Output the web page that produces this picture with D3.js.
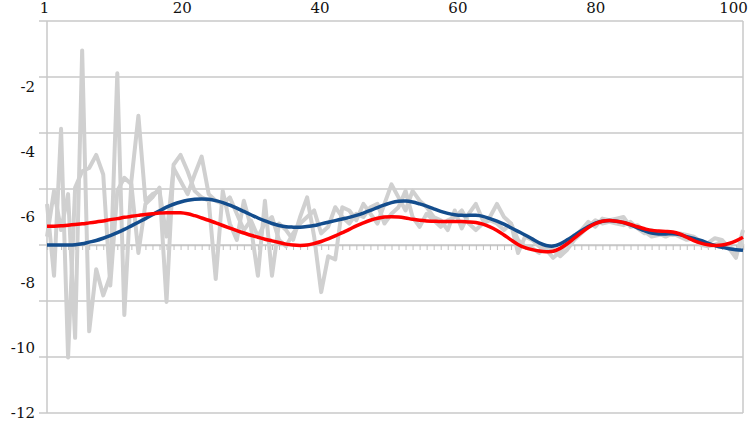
<!DOCTYPE html>
<html>
<head>
<meta charset="utf-8">
<script src="https://cdn.jsdelivr.net/npm/d3@7"></script>
<style>
  html, body { margin: 0; padding: 0; background: #fff; }
  svg text { font-family: "DejaVu Serif", "Liberation Serif", serif; font-size: 15px; fill: #111; }
</style>
</head>
<body>
<svg id="chart" width="750" height="425"></svg>
<script>
// ---------- data ----------
const categories = d3.range(1, 101);
const xTickLabels = ["1", "20", "40", "60", "80", "100"];
const yTickValues = [-2, -4, -6, -8, -10, -12];

const grayA = [
  -5.6, -7.8, -3.3, -10.3, -5.1, -4.6, -4.5, -4.1, -4.7, -8.1,
  -5.2, -4.8, -5.0, -7.1, -5.6, -5.4, -5.1, -8.6, -4.4, -4.1,
  -4.6, -5.2, -5.4, -5.5, -7.9, -5.2, -6.2, -6.7, -5.5, -6.3,
  -7.8, -5.5, -7.8, -6.2, -6.4, -6.7, -6.0, -5.4, -6.6, -8.3,
  -7.2, -7.3, -5.7, -5.8, -6.1, -5.6, -5.9, -6.2, -5.6, -5.0,
  -5.4, -5.8, -5.2, -5.5, -5.7, -6.0, -6.1, -6.4, -5.8, -6.35,
  -5.9, -5.6, -6.1, -6.0, -5.6, -6.0, -6.2, -7.1, -6.6, -6.7,
  -6.9, -7.0, -7.25, -7.06, -6.8, -6.6, -6.4, -6.15, -6.3, -6.05,
  -6.1, -6.05, -6.0, -6.3, -6.25, -6.45, -6.6, -6.55, -6.5, -6.55,
  -6.5, -6.55, -6.6, -6.75, -6.8, -6.65, -6.7, -6.95, -7.25, -6.4
];
const grayB = [
  -6.6, -5.2, -6.4, -5.3, -9.7, -0.9, -9.5, -7.6, -8.4, -7.8,
  -1.6, -9.0, -4.9, -2.9, -5.5, -5.3, -5.2, -6.6, -4.5, -4.9,
  -5.3, -4.7, -4.15, -5.3, -5.5, -5.6, -5.4, -5.9, -6.4, -6.1,
  -6.6, -6.2, -6.0, -6.7, -6.9, -6.5, -6.2, -6.0, -5.8, -6.5,
  -6.3, -5.7, -6.0, -6.2, -5.9, -6.0, -5.7, -5.6, -6.2, -5.9,
  -5.7, -5.2, -6.0, -6.3, -5.9, -6.1, -6.3, -6.1, -6.0, -5.8,
  -6.2, -6.4, -6.2, -6.1, -6.2, -6.4, -6.2, -6.7, -6.9, -6.95,
  -7.1, -6.9, -7.0, -7.2, -7.0, -6.7, -6.5, -6.3, -6.1, -6.2,
  -6.15, -6.2, -6.25, -6.15, -6.35, -6.5, -6.4, -6.5, -6.6, -6.5,
  -6.6, -6.7, -6.65, -6.85, -6.9, -6.85, -6.75, -6.9, -7.05, -6.8
];
const blueSeries = [
  -6.86, -6.86, -6.86, -6.86, -6.85, -6.82, -6.77, -6.72, -6.65, -6.57,
  -6.48, -6.38, -6.27, -6.16, -6.05, -5.93, -5.81, -5.70, -5.61, -5.54,
  -5.49, -5.46, -5.45, -5.46, -5.50, -5.56, -5.64, -5.73, -5.83, -5.93,
  -6.03, -6.12, -6.20, -6.26, -6.30, -6.31, -6.31, -6.29, -6.26, -6.21,
  -6.16, -6.11, -6.06, -6.01, -5.95, -5.88, -5.80, -5.71, -5.63, -5.56,
  -5.52, -5.51, -5.54, -5.60, -5.67, -5.75, -5.83, -5.89, -5.93, -5.95,
  -5.95, -5.95, -5.98, -6.05, -6.13, -6.22, -6.33, -6.44, -6.55, -6.67,
  -6.79, -6.87, -6.89, -6.82, -6.70, -6.56, -6.42, -6.29, -6.19, -6.13,
  -6.11, -6.13, -6.17, -6.24, -6.33, -6.42, -6.49, -6.52, -6.52, -6.51,
  -6.54, -6.60, -6.66, -6.72, -6.80, -6.87, -6.93, -6.97, -7.00, -7.02
];
const redSeries = [
  -6.28, -6.28, -6.27, -6.25, -6.23, -6.21, -6.18, -6.15, -6.12, -6.08,
  -6.05, -6.01, -5.98, -5.95, -5.92, -5.90, -5.88, -5.87, -5.87, -5.87,
  -5.90, -5.96, -6.03, -6.10, -6.18, -6.26, -6.34, -6.42, -6.49, -6.56,
  -6.62, -6.68, -6.73, -6.78, -6.83, -6.86, -6.87, -6.86, -6.81, -6.75,
  -6.67, -6.58, -6.48, -6.38, -6.27, -6.18, -6.10, -6.04, -6.00, -5.99,
  -6.00, -6.03, -6.07, -6.10, -6.12, -6.13, -6.14, -6.14, -6.14, -6.14,
  -6.15, -6.17, -6.22, -6.30, -6.41, -6.55, -6.70, -6.84, -6.94, -7.00,
  -7.04, -7.06, -7.05, -6.96, -6.82, -6.65, -6.48, -6.32, -6.20, -6.13,
  -6.11, -6.13, -6.17, -6.23, -6.30, -6.36, -6.41, -6.43, -6.44, -6.46,
  -6.52, -6.62, -6.72, -6.80, -6.85, -6.87, -6.86, -6.81, -6.73, -6.62
];

// ---------- layout ----------
const margin = { left: 47, right: 7, top: 21, bottom: 12 };
const W = 750, H = 425;
const svg = d3.select("#chart");

const x = d3.scaleLinear().domain([1, 100]).range([margin.left, W - margin.right]);
const xLabel = d3.scaleLinear().domain([0, 100]).range([margin.left - 3, W - margin.right - 10]);
const y = d3.scaleLinear().domain([0, -12]).range([margin.top, H - margin.bottom]);

// gridlines: 7 equal intervals
const gridVals = d3.range(0, 8).map(i => -i * 12 / 7);
svg.append("g").selectAll("line").data(gridVals).join("line")
  .attr("x1", margin.left - 8).attr("x2", W - margin.right)
  .attr("y1", d => y(d)).attr("y2", d => y(d))
  .attr("stroke", "#c8c8c8").attr("stroke-width", 1.5);

// vertical borders
svg.append("g").selectAll("line").data([1, 100]).join("line")
  .attr("x1", d => x(d)).attr("x2", d => x(d))
  .attr("y1", y(0)).attr("y2", y(-12))
  .attr("stroke", "#c8c8c8").attr("stroke-width", 1.5);

// category axis crossing at 4th gridline, with minor ticks
const axisVal = gridVals[4];
const catAxis = d3.axisBottom(x).tickValues(categories).tickSize(5).tickFormat("");
const gAxis = svg.append("g").attr("transform", `translate(0,${y(axisVal)})`).call(catAxis);
gAxis.select(".domain").attr("stroke", "#c8c8c8").attr("stroke-width", 1.5);
gAxis.selectAll(".tick line").attr("stroke", "#c0c0c0").attr("stroke-width", 1);

// top labels
const topAxis = d3.axisTop(xLabel).tickValues([0, 20, 40, 60, 80, 100])
  .tickFormat((d, i) => xTickLabels[i]).tickSize(0).tickPadding(8);
const gTop = svg.append("g").attr("transform", `translate(0,${margin.top})`).call(topAxis);
gTop.select(".domain").remove();

// left labels
const leftAxis = d3.axisLeft(y).tickValues(yTickValues).tickSize(0).tickPadding(12)
  .tickFormat(d => String(d));
const gLeft = svg.append("g").attr("transform", `translate(${margin.left},0)`).call(leftAxis);
gLeft.select(".domain").remove();

// lines
const lineLinear = d3.line().x((d, i) => x(categories[i])).y(d => y(d));
const lineSmooth = d3.line().x((d, i) => x(categories[i])).y(d => y(d)).curve(d3.curveCatmullRom);

[grayA, grayB].forEach(s => {
  svg.append("path").datum(s).attr("d", lineLinear)
    .attr("fill", "none").attr("stroke", "#d0d0d0").attr("stroke-width", 4)
    .attr("stroke-linejoin", "round");
});
svg.append("path").datum(blueSeries).attr("d", lineSmooth)
  .attr("fill", "none").attr("stroke", "#134d8d").attr("stroke-width", 3.5).attr("stroke-linejoin", "round");
svg.append("path").datum(redSeries).attr("d", lineSmooth)
  .attr("fill", "none").attr("stroke", "#ff0000").attr("stroke-width", 3.5).attr("stroke-linejoin", "round");
</script>
</body>
</html>
